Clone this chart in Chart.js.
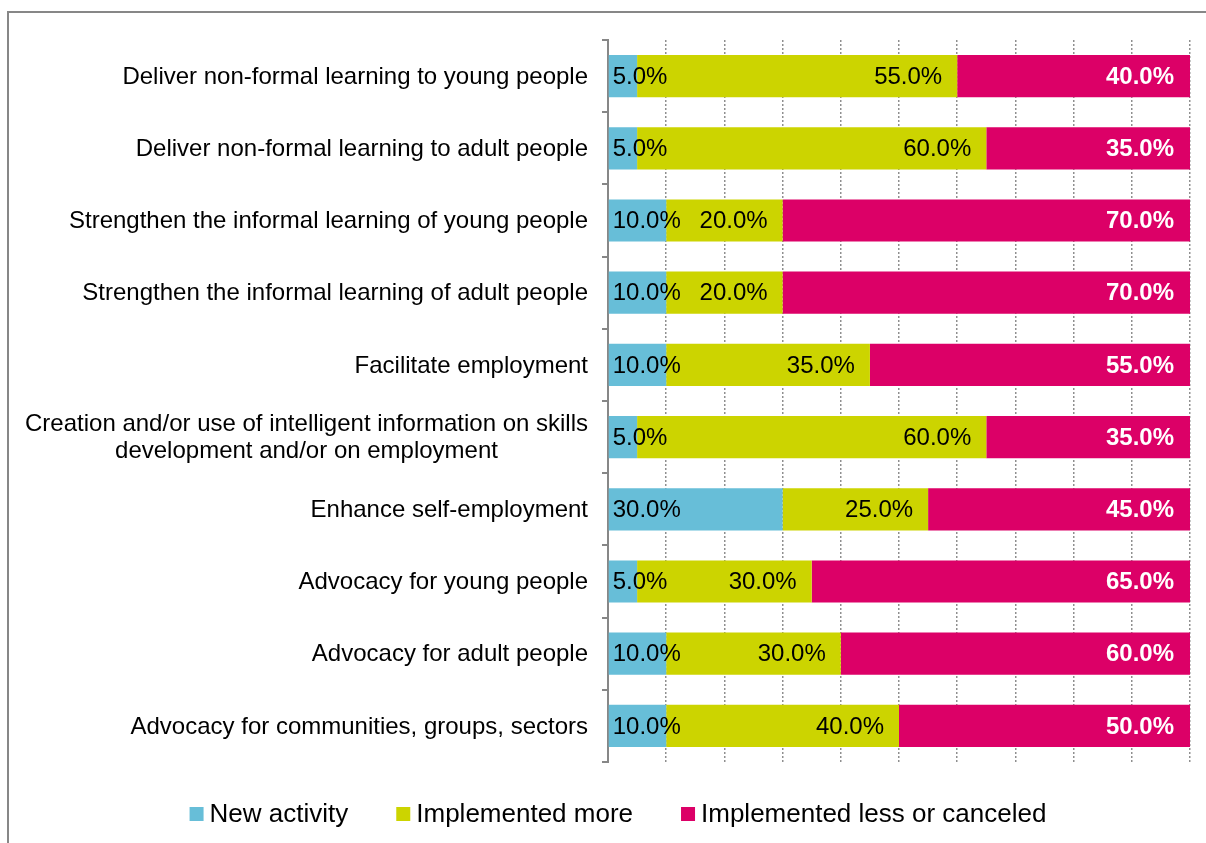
<!DOCTYPE html>
<html>
<head>
<meta charset="utf-8">
<script src="https://cdn.jsdelivr.net/npm/chart.js@4.4.0/dist/chart.umd.min.js"></script>
<style>
    html, body { margin: 0; padding: 0; background: #fff; }
    #wrap { position: relative; width: 1206px; height: 843px; overflow: hidden; }
    #frame { position: absolute; left: 7px; top: 11px; right: 0; bottom: -4px; border-top: 2px solid #878787; border-left: 2px solid #878787; }
    canvas { position: absolute; left: 0; top: 0; }
</style>
</head>
<body>
<div id="wrap">
    <div id="frame"></div>
    <canvas id="chart" width="1206" height="843"></canvas>
</div>
<script>
const categories = [
    "Deliver non-formal learning to young people",
    "Deliver non-formal learning to adult people",
    "Strengthen the informal learning of young people",
    "Strengthen the informal learning of adult people",
    "Facilitate employment",
    ["Creation and/or use of intelligent information on skills", "development and/or on employment"],
    "Enhance self-employment",
    "Advocacy for young people",
    "Advocacy for adult people",
    "Advocacy for communities, groups, sectors"
];
const seriesNames = ["New activity", "Implemented more", "Implemented less or canceled"];
const newActivity = [5, 5, 10, 10, 10, 5, 30, 5, 10, 10];
const implementedMore = [55, 60, 20, 20, 35, 60, 25, 30, 30, 40];
const implementedLess = [40, 35, 70, 70, 55, 35, 45, 65, 60, 50];

const colors = ["#67BED8", "#CCD400", "#DC0067"];
const FONT = '"Liberation Sans", Arial, sans-serif';

// value labels, category labels and legend drawn by hand
const drawPlugin = {
    id: "drawExtras",
    afterDatasetsDraw(chart) {
        const ctx = chart.ctx;
        ctx.save();
        ctx.textBaseline = "middle";
        chart.data.datasets.forEach((ds, i) => {
            const meta = chart.getDatasetMeta(i);
            meta.data.forEach((bar, j) => {
                const text = ds.data[j].toFixed(1) + "%";
                ctx.font = (i === 2 ? "bold " : "") + "24px " + FONT;
                ctx.fillStyle = i === 2 ? "#ffffff" : "#000000";
                const w = ctx.measureText(text).width;
                let x;
                if (i === 0) {
                    x = bar.base + 4;
                } else {
                    x = bar.x - (i === 2 ? 16 : 15) - w;
                    if (x < bar.base + 4) x = bar.base + 4;
                }
                ctx.textAlign = "left";
                ctx.fillText(text, x, bar.y + 1);
            });
        });
        ctx.restore();
    },
    afterDraw(chart) {
        const ctx = chart.ctx;
        const yScale = chart.scales.y;
        ctx.save();
        ctx.fillStyle = "#000";
        ctx.textBaseline = "middle";
        ctx.font = "24px " + FONT;
        ctx.textAlign = "center";
        const right = yScale.right - 20;
        categories.forEach((label, i) => {
            const lines = Array.isArray(label) ? label : [label];
            const maxW = Math.max(...lines.map(l => ctx.measureText(l).width));
            const cx = right - maxW / 2;
            const y = yScale.getPixelForValue(i);
            const lh = 27;
            lines.forEach((l, k) => {
                ctx.fillText(l, cx, y + 1 + (k - (lines.length - 1) / 2) * lh);
            });
        });

        // Legend
        ctx.font = "26px " + FONT;
        ctx.textAlign = "left";
        const box = 14, gap = 6, itemGap = 48;
        const widths = seriesNames.map(n => box + gap + ctx.measureText(n).width);
        const total = widths.reduce((a, b) => a + b, 0) + itemGap * (seriesNames.length - 1);
        let x = 618 - total / 2;
        const ly = 814;
        seriesNames.forEach((n, i) => {
            ctx.fillStyle = colors[i];
            ctx.fillRect(x, ly - box / 2, box, box);
            ctx.fillStyle = "#000";
            ctx.fillText(n, x + box + gap, ly + 1);
            x += widths[i] + itemGap;
        });
        ctx.restore();
    }
};

new Chart(document.getElementById("chart"), {
    type: "bar",
    data: {
        labels: categories,
        datasets: [
            { label: seriesNames[0], data: newActivity, backgroundColor: colors[0] },
            { label: seriesNames[1], data: implementedMore, backgroundColor: colors[1] },
            { label: seriesNames[2], data: implementedLess, backgroundColor: colors[2] }
        ]
    },
    options: {
        responsive: false,
        animation: false,
        indexAxis: "y",
        datasets: { bar: { barPercentage: 0.585, categoryPercentage: 1 } },
        layout: { padding: { top: 40, right: 16, bottom: 81, left: 0 } },
        plugins: {
            legend: { display: false },
            tooltip: { enabled: false }
        },
        scales: {
            x: {
                stacked: true,
                min: 0,
                max: 100,
                ticks: { display: false, stepSize: 10 },
                grid: { color: "#8f8f8f", lineWidth: 1.5, drawTicks: false },
                border: { display: false, dash: [2, 2] }
            },
            y: {
                stacked: true,
                afterFit: scale => { scale.width = 608; },
                ticks: { display: false },
                grid: { drawOnChartArea: false, color: "#878787", lineWidth: 2, tickLength: 6, offset: true },
                border: { color: "#878787", width: 2 }
            }
        }
    },
    plugins: [drawPlugin]
});
</script>
</body>
</html>
